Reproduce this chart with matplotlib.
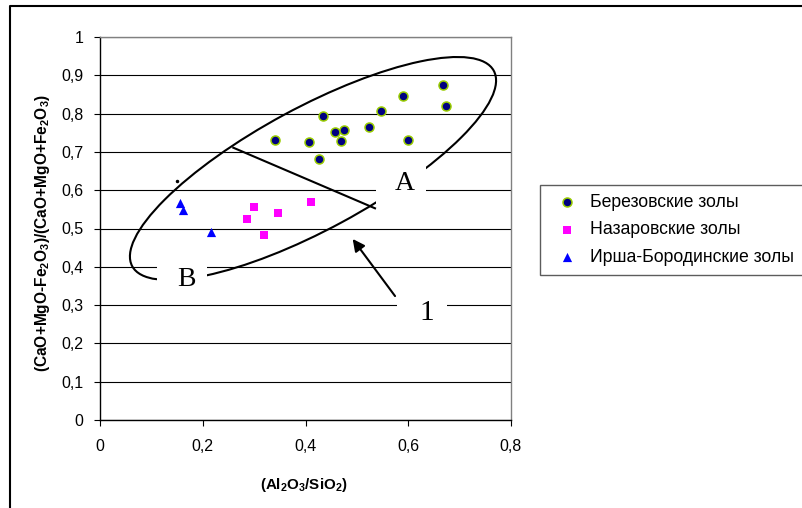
import matplotlib
matplotlib.use("Agg")
import matplotlib.pyplot as plt
import matplotlib.transforms as mtransforms
from matplotlib.patches import Ellipse, Rectangle
from matplotlib.lines import Line2D
from matplotlib.ticker import FuncFormatter

plt.rcParams['font.family'] = ['Liberation Sans', 'DejaVu Sans']
plt.rcParams['mathtext.fontset'] = 'custom'
plt.rcParams['mathtext.rm'] = 'Liberation Sans'
plt.rcParams['mathtext.bf'] = 'Liberation Sans:bold'
plt.rcParams['mathtext.default'] = 'bf'

# Data
ber_x = [0.341, 0.407, 0.426, 0.435, 0.457, 0.475, 0.470, 0.524, 0.546, 0.590, 0.600, 0.667, 0.673]
ber_y = [0.731, 0.727, 0.681, 0.795, 0.753, 0.757, 0.729, 0.764, 0.807, 0.847, 0.730, 0.874, 0.821]
naz_x = [0.286, 0.300, 0.320, 0.346, 0.411]
naz_y = [0.526, 0.555, 0.484, 0.541, 0.570]
irsh_x = [0.156, 0.162, 0.216]
irsh_y = [0.566, 0.547, 0.490]

labels = ['Березовские золы', 'Назаровские золы', 'Ирша-Бородинские золы']
x_ticks = [0, 0.2, 0.4, 0.6, 0.8]
y_ticks = [0, 0.1, 0.2, 0.3, 0.4, 0.5, 0.6, 0.7, 0.8, 0.9, 1.0]

W, H = 802, 508
fig = plt.figure(figsize=(W / 100, H / 100), dpi=100)
ax = fig.add_axes([100 / W, 1 - 420 / H, 411 / W, 383 / H])

# pixel coordinates of the picture (origin top-left, y down)
px = mtransforms.Affine2D().scale(0.01, -0.01).translate(0, H / 100) + fig.dpi_scale_trans

ax.scatter(ber_x, ber_y, s=42, c='#000080', edgecolors='#99CC00', linewidths=1.1,
           marker='o', zorder=6, label=labels[0])
ax.scatter(naz_x, naz_y, s=34, c='#FF00FF', marker='s', linewidths=0, zorder=6, label=labels[1])
ax.scatter(irsh_x, irsh_y, s=44, c='#0000FF', marker='^', linewidths=0, zorder=6, label=labels[2])

ax.set_xlim(0, 0.8)
ax.set_ylim(0, 1)
ax.set_xticks(x_ticks)
ax.set_yticks(y_ticks)
fmt = FuncFormatter(lambda v, p: ('%g' % round(v, 2)).replace('.', ','))
ax.xaxis.set_major_formatter(fmt)
ax.yaxis.set_major_formatter(fmt)
ax.tick_params(direction='out', length=4.5, width=0.8, labelsize=11.5, color='black')
ax.tick_params(axis='y', pad=7.5)
ax.tick_params(axis='x', pad=9)
ax.grid(axis='y', color='black', linewidth=0.8)
ax.set_axisbelow(True)
for side in ['top', 'right']:
    ax.spines[side].set_color('#808080')
    ax.spines[side].set_linewidth(1.0)
for side in ['left', 'bottom']:
    ax.spines[side].set_color('black')
    ax.spines[side].set_linewidth(1.0)

ax.set_xlabel(r'(Al$_2$O$_3$/SiO$_2$)', fontsize=10.9, fontweight='bold')
ax.set_ylabel(r'(CaO+MgO-Fe$_2$O$_3$)/(CaO+MgO+Fe$_2$O$_3$)', fontsize=11.2, fontweight='bold')
ax.xaxis.set_label_coords(0.496, -0.146)
ax.yaxis.set_label_coords(-0.117, 0.487)

# region drawing: ellipse, dividing line, labels
ax.add_patch(Ellipse((313, 168.5), 411, 122, angle=-28.4, transform=px, fill=False,
                     edgecolor='black', linewidth=1.5, zorder=3, clip_on=False))
ax.add_line(Line2D([233.3, 375], [147.7, 208.3], transform=px, color='black',
                   linewidth=1.5, zorder=3, clip_on=False))
ax.add_line(Line2D([176.7], [181], transform=px, marker='o', markersize=1.5,
                   color='black', zorder=3, clip_on=False))
for (bx, by, txt, tx, ty, fs) in [(376, 160, 'A', 405, 184, 20),
                                  (157, 255, 'B', 186.7, 279, 20),
                                  (397, 293, '1', 426.7, 313, 21)]:
    ax.add_patch(Rectangle((bx, by), 50, 45, transform=px, facecolor='white',
                           edgecolor='none', zorder=4, clip_on=False))
    ax.text(tx, ty, txt, transform=px, fontsize=fs, family='Liberation Serif',
            ha='center', va='center', zorder=5)

ax.annotate('', xy=(351, 236.7), xycoords=px, xytext=(396.7, 298.3), textcoords=px,
            arrowprops=dict(arrowstyle='-|>', color='black', lw=1.5, mutation_scale=18),
            zorder=5)

# outer border of the chart
fig.add_artist(Line2D([10, 10, W + 5], [H + 5, 6, 6], transform=px, color='black', linewidth=1.5))

leg = fig.legend(loc='upper left', bbox_to_anchor=(540 / W, 1 - 185 / H), borderaxespad=0,
                 frameon=True, fancybox=False, edgecolor='#333333', fontsize=12.7,
                 borderpad=0.5, labelspacing=0.6, handlelength=2.05, handletextpad=0.3,
                 scatterpoints=1)
leg.get_frame().set_linewidth(1.0)

fig.savefig('out.png', dpi=100)
